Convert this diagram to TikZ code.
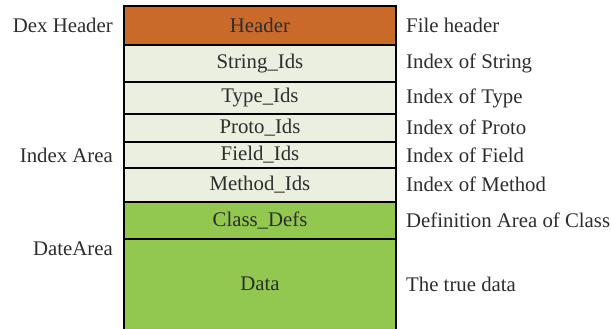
\documentclass[tikz,border=0pt]{standalone}
\usepackage{fontspec}
\setmainfont{Liberation Serif}
\definecolor{hdr}{RGB}{201,106,43}
\definecolor{idx}{RGB}{235,239,224}
\definecolor{dat}{RGB}{146,200,80}
\definecolor{txt}{RGB}{45,45,45}
\begin{document}
\begin{tikzpicture}[x=1pt,y=-1pt,
  every node/.style={font=\fontsize{20.8}{23}\selectfont, text=txt, inner sep=0pt},
  seg/.style={draw=black, line width=1.1pt, minimum width=272pt, anchor=center},
  rlab/.style={anchor=west},
  llab/.style={anchor=east}]
\useasboundingbox (0,0) rectangle (611,329);
\node[seg, fill=hdr, minimum height=39pt] (header) at (260,25.5) {Header};
\node[seg, fill=idx, minimum height=37pt] (string) at (260,63.5) {String\_Ids};
\node[seg, fill=idx, minimum height=32pt] (type) at (260,98) {Type\_Ids};
\node[seg, fill=idx, minimum height=28pt] (proto) at (260,128) {Proto\_Ids};
\node[seg, fill=idx, minimum height=26pt] (field) at (260,155) {Field\_Ids};
\node[seg, fill=idx, minimum height=34pt] (method) at (260,185) {Method\_Ids};
\node[seg, fill=dat, minimum height=37pt] (class) at (260,220.5) {Class\_Defs};
\node[seg, fill=dat, minimum height=94pt] (data) at (260,286) {};
\node (datatext) at (260,284) {Data};
\node[rlab] (r1) at (406,25) {File header};
\node[rlab] (r2) at (406,63.5) {Index of String};
\node[rlab] (r3) at (406,98) {Index of Type};
\node[rlab] (r4) at (406,127) {Index of Proto};
\node[rlab] (r5) at (406,155) {Index of Field};
\node[rlab] (r6) at (406,184) {Index of Method};
\node[rlab] (r7) at (406,220) {Definition Area of Class};
\node[rlab] (r8) at (406,284) {The true data};
\node[llab] (l1) at (113,25) {Dex Header};
\node[llab] (l2) at (113,155) {Index Area};
\node[llab] (l3) at (113,249) {DateArea};
\end{tikzpicture}
\end{document}
